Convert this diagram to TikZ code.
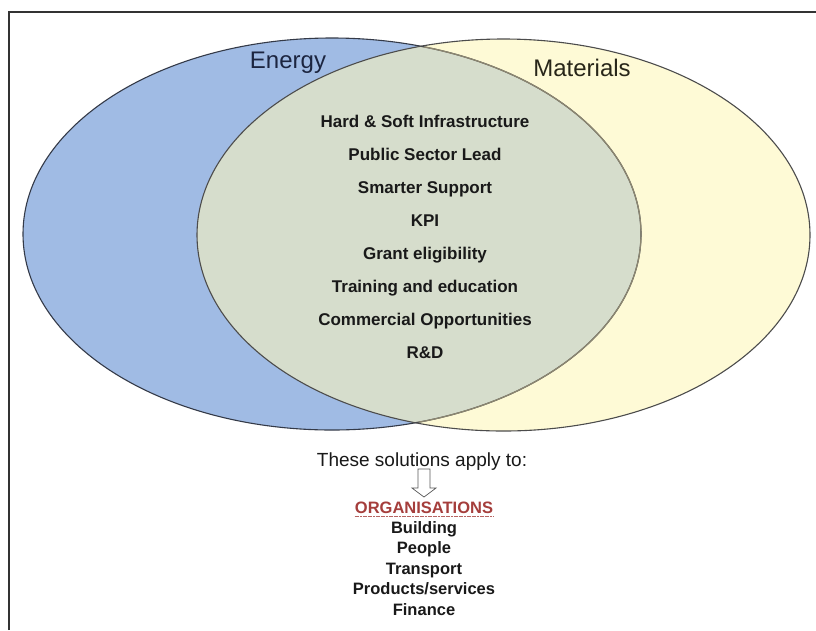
\documentclass[tikz,border=0pt]{standalone}
\usepackage{fontspec}
\setmainfont{Liberation Sans}
\definecolor{energyfill}{RGB}{160,187,228}
\definecolor{materialfill}{RGB}{254,250,214}
\definecolor{sharedfill}{RGB}{214,221,204}
\definecolor{ovaledge}{RGB}{52,58,72}
\definecolor{softedge}{RGB}{140,134,112}
\definecolor{orgred}{RGB}{165,62,60}
\definecolor{inktext}{RGB}{25,25,25}
\begin{document}
\begin{tikzpicture}[x=1pt,y=-1pt,
  setlabel/.style={font=\fontsize{24}{28}\selectfont, anchor=base, inner sep=0pt},
  item/.style={font=\fontsize{17}{20}\selectfont\bfseries, text=inktext, anchor=base, inner sep=0pt},
  caption/.style={font=\fontsize{19}{22}\selectfont, text=inktext, anchor=base, inner sep=0pt},
  target/.style={font=\fontsize{16.5}{20}\selectfont\bfseries, text=inktext, anchor=base, inner sep=0pt},
  frame/.style={draw=black!80, line width=1.3pt},
  hollowarrow/.style={draw=black!65, fill=white, line width=0.7pt, line join=miter}]
\useasboundingbox (0,0) rectangle (816,630);
\fill[white] (0,0) rectangle (816,630);

% outer frame (open to the right and bottom)
\draw[frame] (9,630) -- (9,12) -- (816,12);

% the two sets
\fill[energyfill] (332,234) ellipse [x radius=309pt, y radius=196pt];
\fill[materialfill] (503.5,235) ellipse [x radius=306.5pt, y radius=196pt];
\begin{scope}
  \clip (503.5,235) ellipse [x radius=306.5pt, y radius=196pt];
  \fill[sharedfill] (332,234) ellipse [x radius=309pt, y radius=196pt];
\end{scope}

% outlines
\draw[ovaledge, line width=1.1pt] (332,234) ellipse [x radius=309pt, y radius=196pt];
\begin{scope}
  \clip (503.5,235) ellipse [x radius=305.5pt, y radius=195pt];
  \draw[softedge, line width=1.3pt] (332,234) ellipse [x radius=309pt, y radius=196pt];
\end{scope}
\draw[black!70, line width=1.1pt] (503.5,235) ellipse [x radius=306.5pt, y radius=196pt];

% set names
\node[setlabel, text={rgb,255:red,28;green,37;blue,64}] (energy) at (288,68) {Energy};
\node[setlabel, text={rgb,255:red,40;green,38;blue,25}] (materials) at (582,76) {Materials};

% shared solutions
\node[item] (i1) at (425,127) {Hard \& Soft Infrastructure};
\node[item] (i2) at (425,160) {Public Sector Lead};
\node[item] (i3) at (425,193) {Smarter Support};
\node[item] (i4) at (425,226) {KPI};
\node[item] (i5) at (425,259) {Grant eligibility};
\node[item] (i6) at (425,292) {Training and education};
\node[item] (i7) at (425,325) {Commercial Opportunities};
\node[item] (i8) at (425,358) {R\&D};

% where the solutions apply
\node[caption] (apply) at (422,466.5) {These solutions apply to:};
\coordinate (arrowtop) at (424,469);
\draw[hollowarrow] ([xshift=-6pt]arrowtop) -- ++(0,19) -- ++(-6,0) -- (424,497) -- (436,488) -- ++(-6,0) -- ([xshift=6pt]arrowtop) -- cycle;

\node[target, text=orgred] (org) at (424,513) {ORGANISATIONS};
\draw[orgred!80, line width=0.8pt, dash pattern=on 2pt off 0.6pt] ([yshift=-3.5pt]org.base west) -- ([yshift=-3.5pt]org.base east);
\node[target] (b1) at (424,533) {Building};
\node[target] (b2) at (424,553.5) {People};
\node[target] (b3) at (424,574) {Transport};
\node[target] (b4) at (424,594) {Products/services};
\node[target] (b5) at (424,615) {Finance};
\end{tikzpicture}
\end{document}
